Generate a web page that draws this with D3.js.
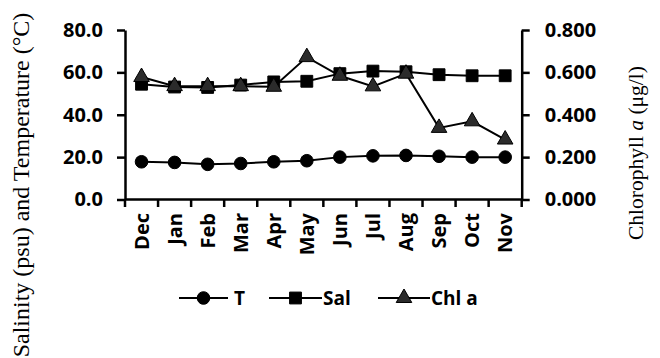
<!DOCTYPE html>
<html><head><meta charset="utf-8">
<script src="https://cdn.jsdelivr.net/npm/d3@7"></script>
<style>body{margin:0;background:#fff}svg{display:block}</style>
</head><body>
<script>
const months = ["Dec","Jan","Feb","Mar","Apr","May","Jun","Jul","Aug","Sep","Oct","Nov"];
const tempVals = [17.8, 17.5, 16.6, 17.0, 17.8, 18.3, 20.0, 20.6, 20.8, 20.4, 20.0, 20.0];
const salVals  = [54.4, 53.1, 52.9, 54.0, 55.5, 55.8, 59.4, 60.6, 60.3, 58.9, 58.4, 58.4];
const chlVals  = [0.578, 0.535, 0.535, 0.535, 0.532, 0.672, 0.584, 0.534, 0.594, 0.338, 0.369, 0.283];
const leftTicks = [0, 20, 40, 60, 80];
const rightTicks = [0, 0.2, 0.4, 0.6, 0.8];
const legendLabels = ["T", "Sal", "Chl a"];

const W = 660, H = 358;
const svg = d3.select("body").append("svg").attr("width", W).attr("height", H);
const x = d3.scaleBand().domain(months).range([125, 521.7]);
const yL = d3.scaleLinear().domain([0, 80]).range([199.5, 30]);
const yR = d3.scaleLinear().domain([0, 0.8]).range([199.5, 30]);
const tickFont = "'Open Sans', sans-serif";

function styleAxis(g, size) {
  g.select(".domain").attr("stroke", "#000").attr("stroke-width", 2.5);
  g.selectAll(".tick line").attr("stroke", "#000").attr("stroke-width", 2.5);
  g.selectAll("text").attr("font-family", tickFont).attr("font-weight", "bold")
    .attr("font-size", size).attr("fill", "#000");
}

// left axis
const gL = svg.append("g").attr("transform", "translate(125,0)")
  .call(d3.axisLeft(yL).tickValues(leftTicks).tickFormat(d3.format(".1f")).tickSize(8).tickSizeOuter(0).tickPadding(14));
styleAxis(gL, 20);
// right axis
const gR = svg.append("g").attr("transform", "translate(521.7,0)")
  .call(d3.axisRight(yR).tickValues(rightTicks).tickFormat(d3.format(".3f")).tickSize(8).tickSizeOuter(0).tickPadding(15));
styleAxis(gR, 20);
// x axis (ticks at band boundaries)
const bounds = months.map(m => x(m)).concat([x.range()[1]]);
const gX = svg.append("g");
gX.append("line").attr("x1", 125).attr("x2", 521.7).attr("y1", 199.5).attr("y2", 199.5)
  .attr("stroke", "#000").attr("stroke-width", 2.5);
gX.selectAll("line.tk").data(bounds).join("line").attr("class", "tk")
  .attr("x1", d => d).attr("x2", d => d).attr("y1", 199.5).attr("y2", 207)
  .attr("stroke", "#000").attr("stroke-width", 2.5);
gX.selectAll("text").data(months).join("text")
  .attr("transform", d => `translate(${x(d) + x.bandwidth() / 2},213) rotate(-90)`)
  .attr("text-anchor", "end").attr("dy", "0.36em")
  .attr("font-family", tickFont).attr("font-weight", "bold").attr("font-size", 20)
  .text(d => d);

// lines
const cx = d => x(d) + x.bandwidth() / 2;
const lineL = d3.line().x(d => cx(d[0])).y(d => yL(d[1]));
const lineR = d3.line().x(d => cx(d[0])).y(d => yR(d[1]));
const tData = months.map((m, i) => [m, tempVals[i]]);
const sData = months.map((m, i) => [m, salVals[i]]);
const cData = months.map((m, i) => [m, chlVals[i]]);
[[tData, lineL], [sData, lineL], [cData, lineR]].forEach(([d, ln]) => {
  svg.append("path").attr("d", ln(d)).attr("fill", "none").attr("stroke", "#000").attr("stroke-width", 2);
});

const circ = d3.symbol().type(d3.symbolCircle).size(125);
const sq = d3.symbol().type(d3.symbolSquare).size(140);
const tri = d3.symbol().type(d3.symbolTriangle).size(105);
function markers(data, sc, sym, fill) {
  svg.append("g").selectAll("path").data(data).join("path")
    .attr("transform", d => `translate(${cx(d[0])},${sc(d[1])})`)
    .attr("d", sym).attr("fill", fill).attr("stroke", "#000").attr("stroke-width", 1);
}
markers(tData, yL, circ, "#000");
markers(sData, yL, sq, "#000");
markers(cData, yR, tri, "#2b2b2b");

// legend
const legY = 298;
const legItems = [
  {x1: 179, x2: 228, sym: circ, fill: "#000", tx: 234},
  {x1: 269, x2: 322, sym: sq, fill: "#000", tx: 323},
  {x1: 378, x2: 430, sym: tri, fill: "#2b2b2b", tx: 431}
];
legItems.forEach((it, i) => {
  svg.append("line").attr("x1", it.x1).attr("x2", it.x2).attr("y1", legY).attr("y2", legY)
    .attr("stroke", "#000").attr("stroke-width", 2);
  svg.append("path").attr("transform", `translate(${(it.x1 + it.x2) / 2},${legY})`)
    .attr("d", it.sym).attr("fill", it.fill).attr("stroke", "#000");
  svg.append("text").attr("x", it.tx).attr("y", legY).attr("dy", "0.36em")
    .attr("font-family", tickFont).attr("font-weight", "bold").attr("font-size", 19)
    .text(legendLabels[i]);
});

// axis titles
svg.append("text").attr("transform", "translate(29,185) rotate(-90)")
  .attr("text-anchor", "middle").attr("font-family", "'Liberation Serif', 'Times New Roman', serif")
  .attr("font-size", 24).attr("fill", "#000")
  .text("Salinity (psu) and Temperature (°C)");
const rt = svg.append("text").attr("transform", "translate(643,153) rotate(-90)")
  .attr("text-anchor", "middle").attr("font-family", "'Liberation Serif', 'Times New Roman', serif")
  .attr("font-size", 21.5).attr("fill", "#000");
rt.append("tspan").text("Chlorophyll ");
rt.append("tspan").attr("font-style", "italic").text("a");
rt.append("tspan").text(" (μg/l)");
</script>
</body></html>
